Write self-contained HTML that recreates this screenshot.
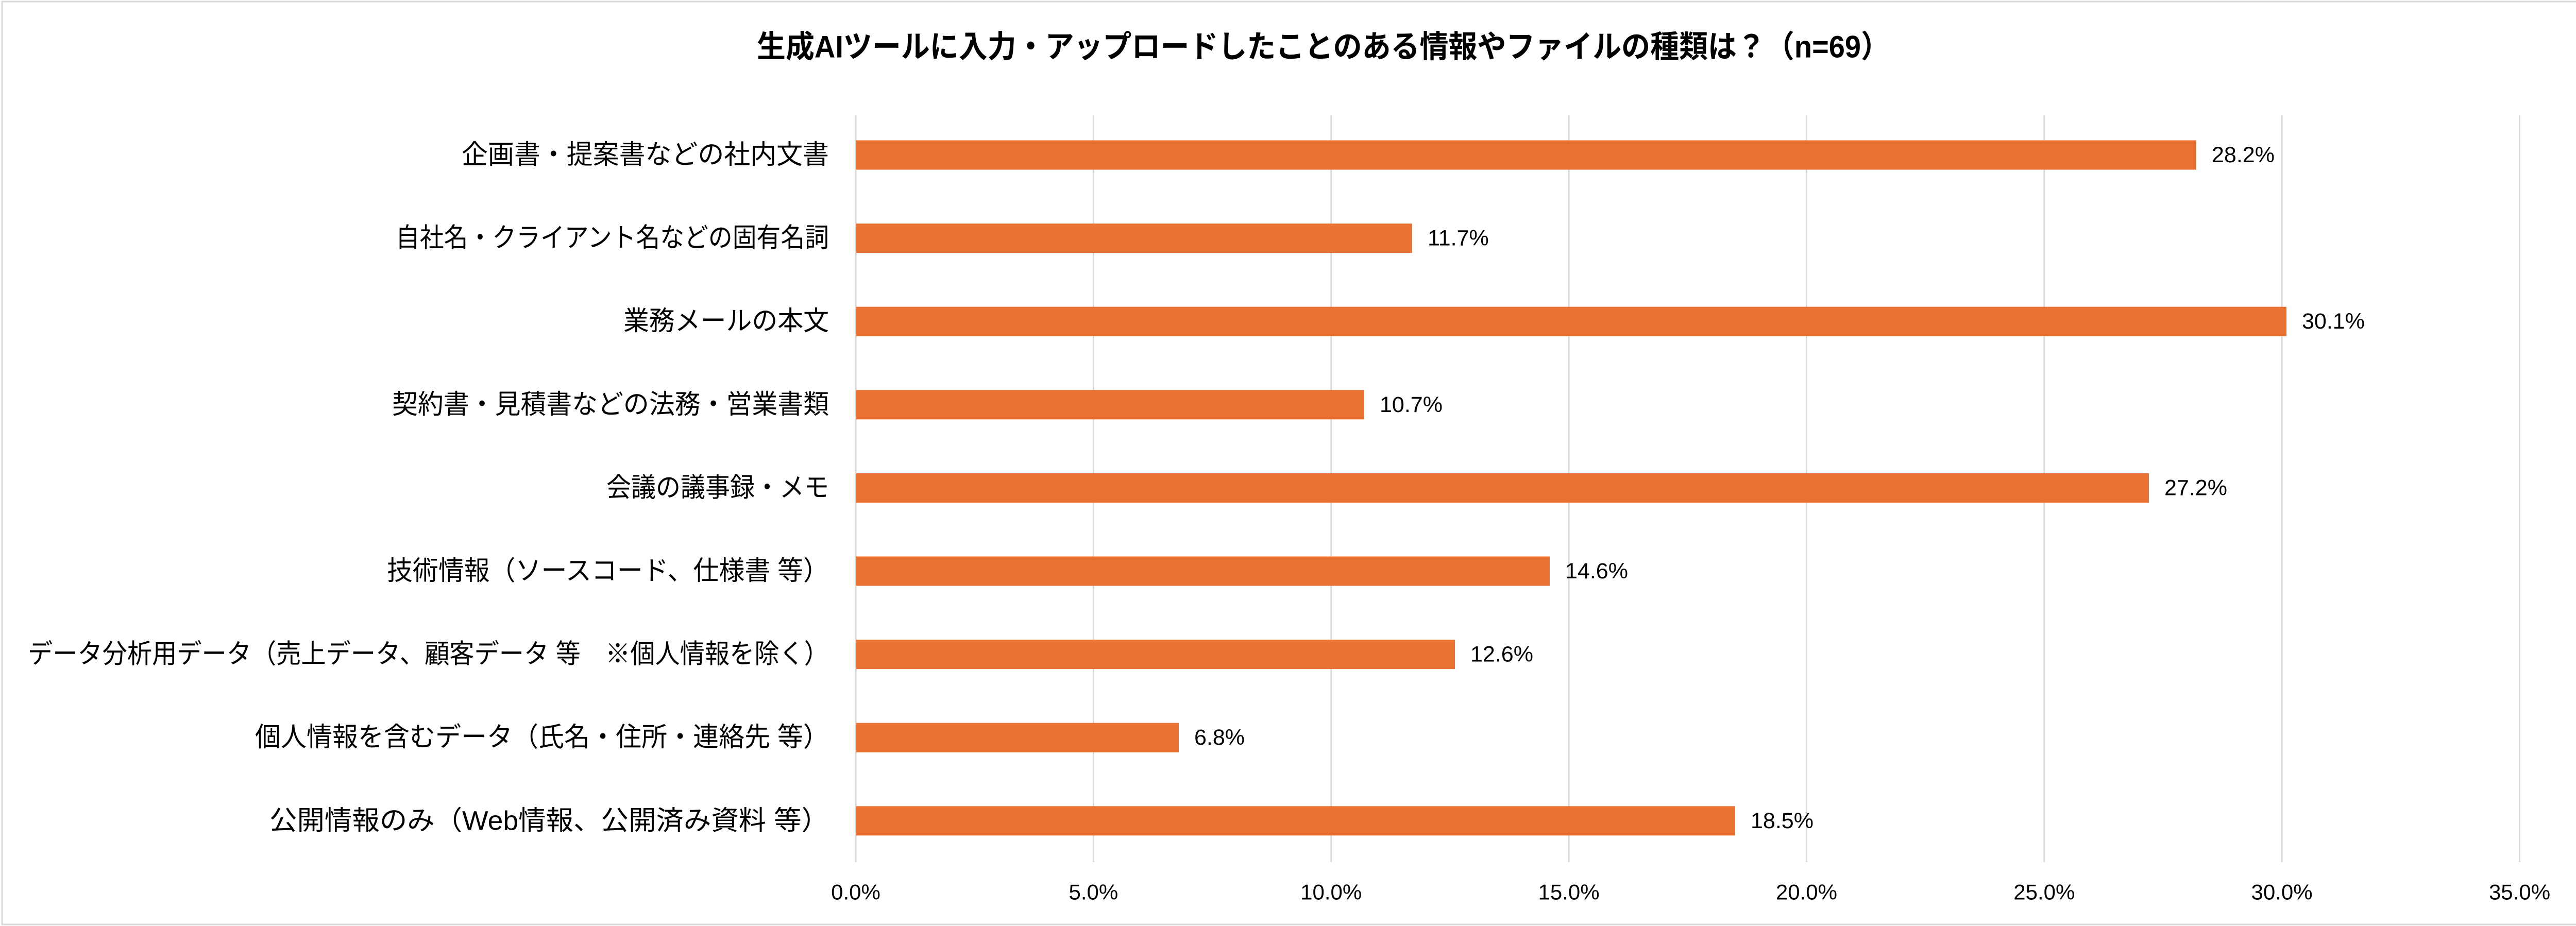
<!DOCTYPE html>
<html>
<head>
<meta charset="utf-8">
<style>
  html, body { margin: 0; padding: 0; background: #ffffff; }
  body { width: 5179px; height: 1798px; overflow: hidden; }
  svg { display: block; }
  .t { font-family: "Liberation Sans", "Noto Sans CJK JP", sans-serif; fill: #000; }
</style>
</head>
<body>
<svg width="5179" height="1798" viewBox="0 0 5179 1798" xmlns="http://www.w3.org/2000/svg">
  <rect x="0" y="0" width="5179" height="1798" fill="#ffffff"/>
  <rect x="4" y="3" width="5171" height="1792" fill="none" stroke="#d9d9d9" stroke-width="3"/>

  <!-- Title -->
  <text class="t" x="1469" y="91" font-size="60" font-weight="bold" dominant-baseline="central" textLength="2199" lengthAdjust="spacingAndGlyphs">生成AIツールに入力・アップロードしたことのある情報やファイルの種類は？（n=69）</text>

  <!-- Gridlines -->
  <g stroke="#d9d9d9" stroke-width="3">
    <line x1="1661" y1="224" x2="1661" y2="1674"/>
    <line x1="2122.4" y1="224" x2="2122.4" y2="1674"/>
    <line x1="2583.7" y1="224" x2="2583.7" y2="1674"/>
    <line x1="3045.1" y1="224" x2="3045.1" y2="1674"/>
    <line x1="3506.4" y1="224" x2="3506.4" y2="1674"/>
    <line x1="3967.8" y1="224" x2="3967.8" y2="1674"/>
    <line x1="4429.1" y1="224" x2="4429.1" y2="1674"/>
    <line x1="4890.5" y1="224" x2="4890.5" y2="1674"/>
  </g>

  <!-- Bars -->
  <g fill="#E97132">
    <rect x="1662" y="272.5" width="2601" height="57"/>
    <rect x="1662" y="434.1" width="1079" height="57"/>
    <rect x="1662" y="595.7" width="2776" height="57"/>
    <rect x="1662" y="757.3" width="986" height="57"/>
    <rect x="1662" y="918.9" width="2509" height="57"/>
    <rect x="1662" y="1080.5" width="1346" height="57"/>
    <rect x="1662" y="1242.1" width="1162" height="57"/>
    <rect x="1662" y="1403.7" width="626" height="57"/>
    <rect x="1662" y="1565.3" width="1706" height="57"/>
  </g>

  <!-- Data labels -->
  <g class="t" font-size="43" dominant-baseline="central">
    <text class="t" x="4293" y="301" dominant-baseline="central">28.2%</text>
    <text class="t" x="2771" y="462.6" dominant-baseline="central">11.7%</text>
    <text class="t" x="4468" y="624.2" dominant-baseline="central">30.1%</text>
    <text class="t" x="2678" y="785.8" dominant-baseline="central">10.7%</text>
    <text class="t" x="4201" y="947.4" dominant-baseline="central">27.2%</text>
    <text class="t" x="3038" y="1109" dominant-baseline="central">14.6%</text>
    <text class="t" x="2854" y="1270.6" dominant-baseline="central">12.6%</text>
    <text class="t" x="2318" y="1432.2" dominant-baseline="central">6.8%</text>
    <text class="t" x="3398" y="1593.8" dominant-baseline="central">18.5%</text>
  </g>

  <!-- Category labels -->
  <g font-size="52">
    <text class="t" x="896" y="301" dominant-baseline="central" textLength="713" lengthAdjust="spacingAndGlyphs">企画書・提案書などの社内文書</text>
    <text class="t" x="768" y="462.6" dominant-baseline="central" textLength="841" lengthAdjust="spacingAndGlyphs">自社名・クライアント名などの固有名詞</text>
    <text class="t" x="1210" y="624.2" dominant-baseline="central" textLength="399" lengthAdjust="spacingAndGlyphs">業務メールの本文</text>
    <text class="t" x="761" y="785.8" dominant-baseline="central" textLength="848" lengthAdjust="spacingAndGlyphs">契約書・見積書などの法務・営業書類</text>
    <text class="t" x="1177" y="947.4" dominant-baseline="central" textLength="432" lengthAdjust="spacingAndGlyphs">会議の議事録・メモ</text>
    <text class="t" x="751" y="1109" dominant-baseline="central" textLength="858" lengthAdjust="spacingAndGlyphs">技術情報（ソースコード、仕様書 等）</text>
    <text class="t" x="54" y="1270.6" dominant-baseline="central" textLength="1555" lengthAdjust="spacingAndGlyphs">データ分析用データ（売上データ、顧客データ 等　※個人情報を除く）</text>
    <text class="t" x="495" y="1432.2" dominant-baseline="central" textLength="1114" lengthAdjust="spacingAndGlyphs">個人情報を含むデータ（氏名・住所・連絡先 等）</text>
    <text class="t" x="523" y="1593.8" dominant-baseline="central" textLength="1086" lengthAdjust="spacingAndGlyphs">公開情報のみ（Web情報、公開済み資料 等）</text>
  </g>

  <!-- Axis tick labels -->
  <g font-size="42">
    <text class="t" x="1661" y="1732" text-anchor="middle" dominant-baseline="central">0.0%</text>
    <text class="t" x="2122.4" y="1732" text-anchor="middle" dominant-baseline="central">5.0%</text>
    <text class="t" x="2583.7" y="1732" text-anchor="middle" dominant-baseline="central">10.0%</text>
    <text class="t" x="3045.1" y="1732" text-anchor="middle" dominant-baseline="central">15.0%</text>
    <text class="t" x="3506.4" y="1732" text-anchor="middle" dominant-baseline="central">20.0%</text>
    <text class="t" x="3967.8" y="1732" text-anchor="middle" dominant-baseline="central">25.0%</text>
    <text class="t" x="4429.1" y="1732" text-anchor="middle" dominant-baseline="central">30.0%</text>
    <text class="t" x="4890.5" y="1732" text-anchor="middle" dominant-baseline="central">35.0%</text>
  </g>
</svg>
</body>
</html>
